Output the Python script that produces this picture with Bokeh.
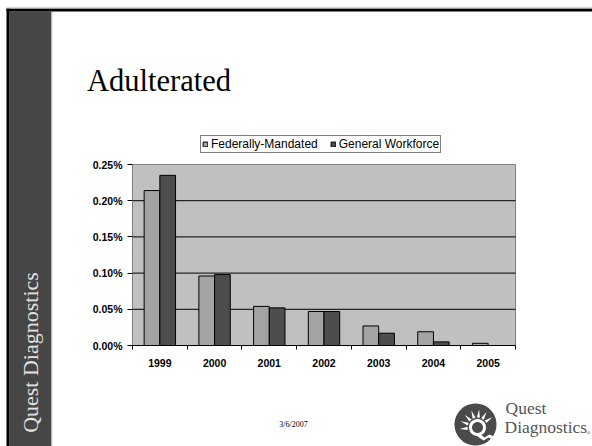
import math
from bokeh.plotting import figure
from bokeh.models import (ColumnDataSource, FixedTicker, PrintfTickFormatter, Legend, LegendItem,
                          Range1d, LinearAxis)
from bokeh.core.properties import value
from bokeh.transform import dodge
from bokeh.embed import file_html
from bokeh.resources import INLINE

# ---------------- data ----------------
years = ["1999", "2000", "2001", "2002", "2003", "2004", "2005"]
federally_mandated = [0.214, 0.096, 0.054, 0.047, 0.027, 0.019, 0.003]
general_workforce = [0.235, 0.098, 0.052, 0.047, 0.017, 0.005, 0.0]
y_ticks = [0.0, 0.05, 0.10, 0.15, 0.20, 0.25]
series_names = ["Federally-Mandated", "General Workforce"]
slide_title = "Adulterated"
side_text = "Quest Diagnostics"
date_text = "3/6/2007"
logo_words = ["Quest", "Diagnostics"]

# ---------------- page geometry (pixels) ----------------
PW, PH = 592, 446
FL, FR, FT, FB = 132, 515, 164, 345   # chart plot area in page pixels
X0, X1 = -0.5, len(years) - 0.5
Y0, Y1 = y_ticks[0], y_ticks[-1]
kx = (X1 - X0) / (FR - FL)
ky = (Y1 - Y0) / (FB - FT)

p = figure(width=PW, height=PH,
           x_range=Range1d(X0 - FL * kx, X1 + (PW - FR) * kx),
           y_range=Range1d(Y0 - (PH - FB) * ky, Y1 + FT * ky),
           output_backend="svg", toolbar_location=None, x_axis_type=None, y_axis_type=None,
           min_border=0, min_border_left=0, min_border_right=0, min_border_top=0, min_border_bottom=0)
p.grid.visible = False
p.outline_line_color = None
p.background_fill_color = "white"
p.border_fill_color = "white"
p.extra_x_ranges = {"px": Range1d(0, PW)}
p.extra_y_ranges = {"py": Range1d(PH, 0)}
PX = dict(x_range_name="px", y_range_name="py")
SERIF = value("Liberation Serif")

# ---------------- slide decorations ----------------
p.quad(left=[9], right=[51], top=[11], bottom=[PH], fill_color="#464646", line_color=None, **PX)
p.quad(left=[51], right=[52], top=[11], bottom=[PH], fill_color="#cfcfcf", line_color=None, **PX)
p.quad(left=[6], right=[9], top=[8], bottom=[PH], fill_color="black", line_color=None, **PX)
p.quad(left=[6], right=[PW], top=[8], bottom=[11], fill_color="black", line_color=None, **PX)
p.quad(left=[6], right=[PW], top=[7], bottom=[8], fill_color="#b0b0b0", line_color=None, **PX)
p.text(x=[30], y=[352], text=[side_text], angle=math.pi / 2, text_font=SERIF,
       text_font_size="22px", text_color="#e2e2e2", text_align="center", text_baseline="middle", **PX)
p.text(x=[86.5], y=[80], text=[slide_title], text_font=SERIF, text_font_size="30.5px",
       text_color="black", text_align="left", text_baseline="alphabetic", **PX)
p.text(x=[293], y=[424], text=[date_text], text_font=SERIF, text_font_size="8px",
       text_color="black", text_align="center", text_baseline="middle", **PX)


def circle_pts(cx, cy, r, n=48):
    return ([cx + r * math.cos(2 * math.pi * k / n) for k in range(n)],
            [cy - r * math.sin(2 * math.pi * k / n) for k in range(n)])


LC = (475, 424)
cx, cy = circle_pts(LC[0], LC[1], 21)
p.patch(cx, cy, fill_color="#4a4a4a", line_color=None, **PX)
S = (477, 427)
rx, ry = [], []
for ang in [35, 60, 85, 110, 135, 160, 185]:
    a = math.radians(ang)
    da = math.radians(9)
    rx.append([S[0] + 10 * math.cos(a - da), S[0] + 18 * math.cos(a), S[0] + 10 * math.cos(a + da)])
    ry.append([S[1] - 10 * math.sin(a - da), S[1] - 18 * math.sin(a), S[1] - 10 * math.sin(a + da)])
p.patches(rx, ry, fill_color="white", line_color=None, **PX)
cx, cy = circle_pts(S[0], S[1], 8.5)
p.patch(cx, cy, fill_color="white", line_color=None, **PX)
cx, cy = circle_pts(S[0], S[1], 5.5)
p.patch(cx, cy, fill_color="#4a4a4a", line_color=None, **PX)
p.patch([479, 484, 489, 493, 492, 488, 483, 477], [433, 437, 434, 436, 439, 437, 440, 436],
        fill_color="white", line_color=None, **PX)
p.text(x=[505, 504], y=[407, 426], text=logo_words, text_font=SERIF, text_font_size="17.5px",
       text_color="#555555", text_align="left", text_baseline="alphabetic", **PX)
p.text(x=[588], y=[432], text=["\u00ae"], text_font=SERIF, text_font_size="6px",
       text_color="#555555", text_align="center", text_baseline="middle", **PX)

# ---------------- chart ----------------
# plot area background + border (top/right grey)
p.quad(left=[X0], right=[X1], bottom=[Y0], top=[Y1], fill_color="#c0c0c0",
       line_color="#808080", line_width=1)
# horizontal gridlines at the value ticks
p.segment(x0=X0, x1=X1, y0=y_ticks[1:-1], y1=y_ticks[1:-1], line_color="black", line_width=1)

src = ColumnDataSource(dict(x=list(range(len(years))), fm=federally_mandated, gw=general_workforce))
bw = 0.287
r1 = p.vbar(x=dodge("x", -bw / 2), top="fm", width=bw, source=src,
            fill_color="#a3a3a3", line_color="black", line_width=1)
r2 = p.vbar(x=dodge("x", bw / 2), top="gw", width=bw, source=src,
            fill_color="#4d4d4d", line_color="black", line_width=1)

xa = LinearAxis(fixed_location=Y0, bounds=(X0, X1))
xa.ticker = FixedTicker(ticks=list(range(len(years))),
                        minor_ticks=[i - 0.5 for i in range(len(years) + 1)])
xa.major_label_overrides = {i: y for i, y in enumerate(years)}
xa.major_tick_line_color = None
xa.major_tick_out = 0
xa.major_tick_in = 0
xa.minor_tick_line_color = "black"
xa.minor_tick_out = 4
xa.minor_tick_in = 0
xa.axis_line_color = "black"
xa.major_label_standoff = 9
xa.major_label_text_font = "Liberation Sans"
xa.major_label_text_font_style = "bold"
xa.major_label_text_font_size = "10.5px"
xa.major_label_text_color = "black"
p.add_layout(xa, "below")

ya = LinearAxis(fixed_location=X0, bounds=(Y0, Y1))
ya.ticker = FixedTicker(ticks=y_ticks, minor_ticks=[])
ya.formatter = PrintfTickFormatter(format="%.2f%%")
ya.major_tick_out = 5
ya.major_tick_in = 0
ya.major_tick_line_color = "black"
ya.minor_tick_line_color = None
ya.axis_line_color = "#808080"
ya.major_label_standoff = 5
ya.major_label_text_font = "Liberation Sans"
ya.major_label_text_font_style = "bold"
ya.major_label_text_font_size = "10.5px"
ya.major_label_text_color = "black"
p.add_layout(ya, "left")

legend = Legend(items=[LegendItem(label=series_names[0], renderers=[r1]),
                       LegendItem(label=series_names[1], renderers=[r2])],
                orientation="horizontal", location=(200, PH - 153))
legend.border_line_color = "black"
legend.border_line_width = 1
legend.background_fill_color = "white"
legend.background_fill_alpha = 1
legend.padding = 1
legend.margin = 0
legend.spacing = 12
legend.label_standoff = 3
legend.glyph_width = 6
legend.glyph_height = 6
legend.label_height = 10
legend.label_text_font = "Liberation Sans"
legend.label_text_font_size = "12px"
legend.label_text_color = "black"
p.add_layout(legend)

open("out.html", "w").write(file_html(p, INLINE))
